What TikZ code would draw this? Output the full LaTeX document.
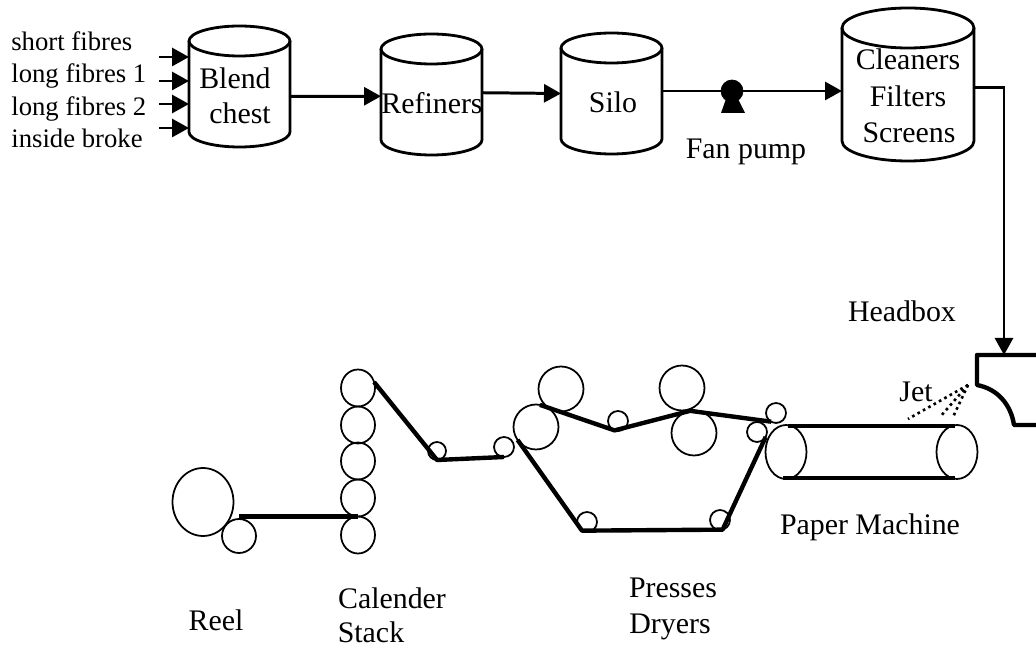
\documentclass[tikz,border=0pt]{standalone}
\usepackage{fontspec}
\setmainfont{Liberation Serif}
\usetikzlibrary{arrows.meta,shapes.geometric}

\tikzset{
  tankline/.style={line width=1.6pt,line join=round},
  roller/.style={draw,circle,inner sep=0pt,outer sep=0pt,line width=1pt,minimum size=#1},
  oval/.style={draw,ellipse,inner sep=0pt,outer sep=0pt,line width=1pt},
  flow/.style={line width=1.7pt,-{Triangle[length=0.34cm,width=0.36cm]}},
  belt/.style={line width=2.5pt,line join=round},
  caption/.style={anchor=base,inner sep=0pt,font=\fontsize{17}{20}\selectfont},
  feedtext/.style={anchor=base west,inner sep=0pt,font=\fontsize{15.2}{18}\selectfont}
}

% name, centre x, centre y, width, height, depth of the cap
\newcommand{\tank}[6]{%
  \node[minimum width=#4*0.02cm,minimum height=#5*0.02cm,inner sep=0pt,outer sep=0pt] (#1) at (#2,#3) {};
  \draw[tankline] (#2,#3-#5/2+#6) ellipse (#4/2 and #6);
  \draw[tankline] (#2-#4/2,#3-#5/2+#6) -- (#2-#4/2,#3+#5/2-#6) arc (180:0:#4/2 and #6) -- (#2+#4/2,#3-#5/2+#6);
}

\begin{document}
\begin{tikzpicture}[x=0.02cm,y=-0.02cm]
  \useasboundingbox (0,0) rectangle (1036,648);

  % tanks along the top
  \tank{blend}{239.5}{86.5}{101}{121}{15}
  \tank{refiners}{431.5}{94.5}{101}{121}{15}
  \tank{silo}{611.5}{93.5}{101}{121}{15}
  \tank{cleaners}{908}{84.5}{132}{153}{20}

  \node[caption] (blendA) at (235,89) {Blend};
  \node[caption] (blendB) at (240,124) {chest};
  \node[caption] (refinersT) at (432,114) {Refiners};
  \node[caption] (siloT) at (613,113) {Silo};
  \node[caption] (cleanersT) at (908,70) {Cleaners};
  \node[caption] (filtersT) at (908,107) {Filters};
  \node[caption] (screensT) at (909,143) {Screens};

  \foreach \n/\y/\t in {a/51/short fibres,b/83/long fibres 1,c/116/long fibres 2,d/148/inside broke}
    \node[feedtext] (feed\n) at (11,\y) {\t};

  \foreach \n/\y in {a/57,b/81,c/104,d/128} {
    \coordinate (in\n) at (159,\y);
    \draw[flow] (in\n) -- (in\n -| blend.west);
  }

  % pump
  \node[draw,circle,fill=black,inner sep=0pt,minimum size=0.44cm] (pump) at (732,91) {};
  \fill (726,99) -- (738,99) -- (745,113) -- (721,113) -- cycle;
  \node[caption] (pumpT) at (746,159) {Fan pump};

  \draw[flow] (blend.-11) -- (refiners.182);
  \draw[flow] (refiners.2) -- (silo.west);
  \draw[line width=1.7pt] (pump -| silo.east) -- (pump);
  \draw[flow] (pump) -- (pump -| cleaners.west);

  % headbox
  \coordinate (headtop) at (1004,355);
  \draw[flow] (cleaners.-3) -| (headtop);
  \draw[line width=2.5pt,line join=round] (1036,355) -- (977,355) -- (977,385)
    .. controls (998,389) and (1011,405) .. (1014,425) -- (1036,425);
  \node[caption] (headboxT) at (902,322) {Headbox};

  % jet
  \node[caption] (jetT) at (916,402) {Jet};
  \coordinate (nozzle) at (968,385);
  \foreach \x/\y in {908/419,940/417,953/417} {
    \coordinate (spray) at (\x,\y);
    \draw[line width=1.5pt,dotted] (nozzle) -- (spray);
  }

  % paper machine
  \node[oval,minimum width=0.82cm,minimum height=1.08cm] (wireL) at (786,452) {};
  \node[oval,minimum width=0.82cm,minimum height=1.08cm] (wireR) at (957,452) {};
  \draw[belt] (788,426) -- (955,426);
  \draw[belt] (783,478) -- (955,478);
  \node[caption] (wireT) at (870,535) {Paper Machine};

  % presses and dryers
  \foreach \n/\x/\y in {A/561/389,B/536/427,E/682/388,F/694/433}
    \node[roller=0.9cm] (press\n) at (\x,\y) {};
  \foreach \n/\x/\y in {C/504/447,D/618/421,G/776/413,H/757/432,I/587/522,J/720/520}
    \node[roller=0.4cm] (press\n) at (\x,\y) {};
  \draw[belt] (pressB.80) -- (pressD.250) -- (pressF.100) -- (pressG.240);
  \draw[belt] (pressB.215) -- (pressI.240) -- (pressJ.285) -- (pressH.-30);
  \node[caption] (pressT) at (673,598) {Presses};
  \node[caption] (dryerT) at (670,634) {Dryers};

  % calender stack
  \foreach \n/\y in {A/388,B/425,C/461,D/498,E/535}
    \node[oval,minimum width=0.68cm,minimum height=0.74cm] (stack\n) at (358,\y) {};
  \node[roller=0.36cm] (idle) at (437,451) {};
  \draw[belt] (stackA.20) -- (idle.south) -- (pressC.south);
  \node[caption] (stackA1) at (392,609) {Calender};
  \node[caption] (stackA2) at (371,643) {Stack};

  % reel
  \node[oval,minimum width=1.22cm,minimum height=1.36cm] (reelA) at (203,502) {};
  \node[roller=0.68cm] (reelB) at (239,536) {};
  \draw[belt] (stackE.north -| reelB) -- (stackE.north);
  \node[caption] (reelT) at (216,631) {Reel};
\end{tikzpicture}
\end{document}
